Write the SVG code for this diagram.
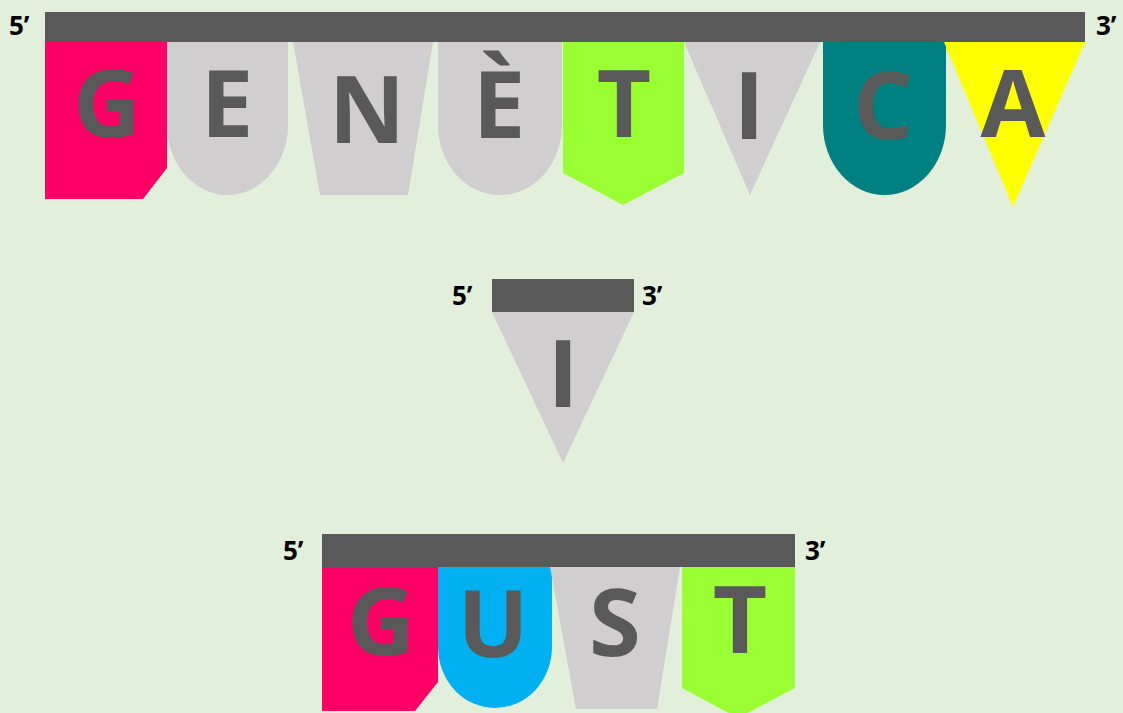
<svg xmlns="http://www.w3.org/2000/svg" width="1123" height="713" viewBox="0 0 1123 713">
<style>
.bar{fill:#595959}
.lt{font-family:"Open Sans","DejaVu Sans",sans-serif;font-weight:700;font-size:94px;fill:#595959;text-anchor:middle}
.lb{font-family:"Open Sans","DejaVu Sans",sans-serif;font-weight:700;font-size:26px;fill:#000}
.pink{fill:#ff0066}.gray{fill:#d0cece}.green{fill:#99ff33}.teal{fill:#008080}.yellow{fill:#ffff00}.blue{fill:#00b0f0}
</style>
<rect width="1123" height="713" fill="#e2efda"/>
<g id="strand1">
<rect class="bar" x="45" y="12" width="1040" height="30"/>
<text class="lb" x="9" y="35">5’</text>
<text class="lb" x="1096" y="35">3’</text>
</g>
<g id="flag-G1"><path class="pink" d="M45,42H167V168L143,199H45Z"/><text class="lt" x="107" y="137">G</text></g>
<g id="flag-E1"><path class="gray" d="M167,42V125A60.5,70 0 0 0 288,125V42Z"/><text class="lt" x="227" y="137">E</text></g>
<g id="flag-N"><path class="gray" d="M293,42H433L408,195H320Z"/><text class="lt" x="367" y="143">N</text></g>
<g id="flag-E2"><path class="gray" d="M438,42V125A62,70 0 0 0 562,125V42Z"/><text class="lt" x="499" y="138">È</text></g>
<g id="flag-T1"><path class="green" d="M563,42H684V173L623,205L563,173Z"/><text class="lt" x="624" y="137">T</text></g>
<g id="flag-I1"><path class="gray" d="M684,42H820L750,195Z"/><text class="lt" x="749" y="139">I</text></g>
<g id="flag-C"><path class="teal" d="M823,42V125A61.5,70 0 0 0 946,125V42Z"/><text class="lt" x="883" y="139">C</text></g>
<g id="flag-A"><path class="yellow" d="M944,42H1085L1013,207Z"/><text class="lt" x="1013" y="137">A</text></g>

<g id="strand2">
<rect class="bar" x="492" y="279" width="142" height="33"/>
<text class="lb" x="452" y="305">5’</text>
<text class="lb" x="642" y="305">3’</text>
</g>
<g id="flag-I2"><path class="gray" d="M492,312H634L563,463Z"/><text class="lt" x="563" y="407">I</text></g>

<g id="strand3">
<rect class="bar" x="322" y="534" width="473" height="33"/>
<text class="lb" x="283" y="560">5’</text>
<text class="lb" x="805" y="560">3’</text>
</g>
<g id="flag-G2"><path class="pink" d="M322,567H438V682L415,711H322Z"/><text class="lt" x="381" y="655">G</text></g>
<g id="flag-U"><path class="blue" d="M438,567V647A57,61 0 0 0 552,647V567Z"/><text class="lt" x="493" y="657">U</text></g>
<g id="flag-S"><path class="gray" d="M550,567H680L657,709H576Z"/><text class="lt" x="615" y="656">S</text></g>
<g id="flag-T2"><path class="green" d="M682,567H795V688L738,718L682,688Z"/><text class="lt" x="740" y="653">T</text></g>
</svg>
